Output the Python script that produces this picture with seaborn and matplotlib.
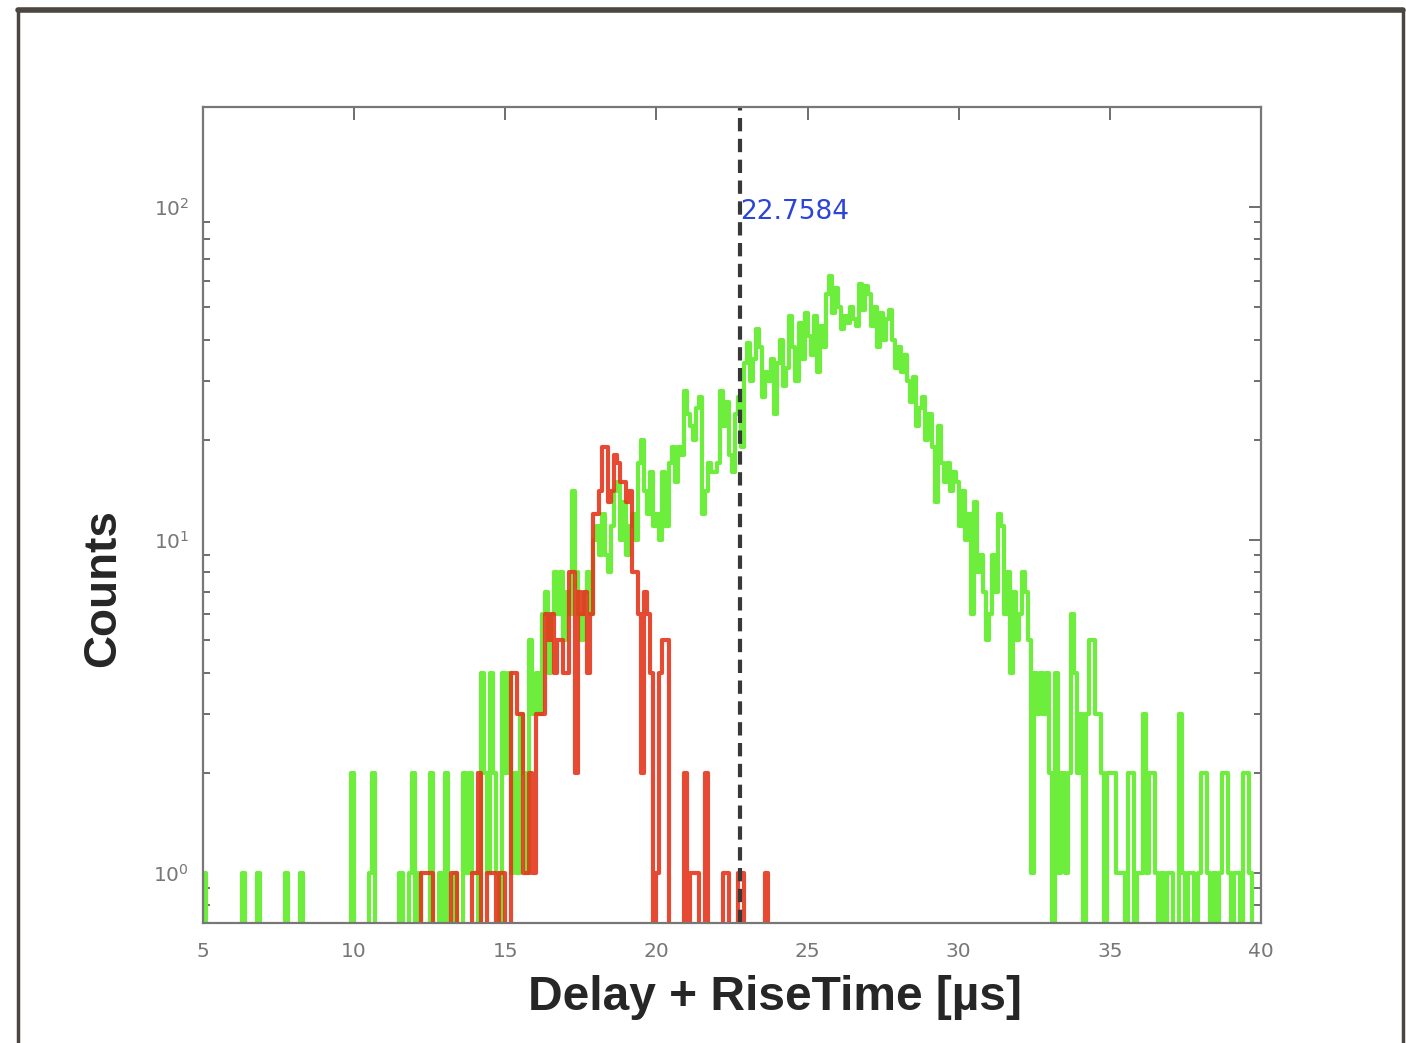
import numpy as np
import pandas as pd
import matplotlib.pyplot as plt
import seaborn as sns
from matplotlib.lines import Line2D

# histogram binning: 0.1 us bins from 5 to 40
bin_width = 0.1
bin_range = (5.0, 40.0)
bin_centers = np.round(np.arange(5.0, 40.0, bin_width), 2) + 0.05

# green histogram, one row per microsecond (5.x ... 39.x)
green_counts = [
    1, 0, 0, 0, 0, 0, 0, 0, 0, 0,
    0, 0, 0, 1, 0, 0, 0, 0, 1, 0,
    0, 0, 0, 0, 0, 0, 0, 1, 0, 0,
    0, 0, 1, 0, 0, 0, 0, 0, 0, 0,
    0, 0, 0, 0, 0, 0, 0, 0, 0, 2,
    0, 0, 0, 0, 0, 1, 2, 0, 0, 0,
    0, 0, 0, 0, 0, 1, 0, 0, 1, 2,
    0, 1, 0, 0, 0, 2, 0, 0, 1, 0,
    2, 0, 0, 1, 0, 0, 2, 1, 2, 1,
    1, 0, 4, 2, 1, 4, 2, 1, 0, 4,
    2, 4, 1, 2, 1, 3, 2, 1, 5, 3,
    4, 3, 6, 7, 4, 6, 8, 6, 8, 5,
    7, 6, 14, 8, 6, 5, 7, 8, 6, 10,
    11, 9, 12, 9, 8, 11, 14, 15, 10, 13,
    9, 11, 12, 10, 17, 20, 14, 12, 16, 11,
    12, 10, 16, 11, 17, 19, 15, 19, 18, 28,
    24, 22, 20, 25, 27, 12, 14, 17, 16, 16,
    17, 28, 22, 26, 18, 16, 24, 27, 19, 34,
    39, 30, 35, 43, 38, 27, 32, 30, 35, 24,
    34, 40, 29, 33, 47, 38, 30, 45, 35, 48,
    41, 36, 47, 32, 44, 38, 55, 62, 48, 57,
    50, 43, 47, 45, 50, 46, 44, 59, 49, 58,
    55, 44, 50, 38, 48, 40, 46, 49, 40, 33,
    38, 32, 36, 30, 26, 31, 22, 25, 27, 20,
    24, 19, 13, 22, 17, 15, 17, 14, 16, 15,
    11, 14, 10, 12, 6, 13, 8, 9, 7, 5,
    6, 9, 7, 12, 11, 6, 8, 4, 7, 5,
    6, 8, 7, 5, 1, 4, 3, 4, 3, 4,
    2, 0, 4, 1, 2, 1, 2, 6, 4, 2,
    3, 0, 3, 5, 5, 3, 3, 2, 0, 2,
    2, 2, 1, 1, 1, 0, 2, 2, 0, 1,
    1, 3, 1, 2, 2, 1, 0, 1, 0, 1,
    1, 0, 0, 3, 1, 0, 1, 1, 0, 1,
    2, 2, 1, 0, 1, 0, 1, 2, 2, 1,
    0, 1, 1, 0, 2, 2, 1, 0, 0, 0,
]

# red histogram is empty outside 12.0 - 23.9
red_start = 12.0
red_counts_window = [
    0, 0, 1, 1, 1, 1, 0, 0, 0, 0,
    0, 0, 1, 1, 0, 0, 0, 0, 0, 1,
    1, 2, 0, 0, 1, 1, 1, 0, 1, 1,
    0, 0, 4, 4, 3, 3, 1, 1, 2, 1,
    3, 3, 3, 6, 5, 6, 4, 5, 5, 4,
    4, 8, 8, 2, 7, 6, 7, 4, 6, 12,
    12, 14, 19, 19, 13, 14, 18, 17, 15, 15,
    13, 14, 8, 8, 6, 2, 7, 6, 4, 0,
    1, 4, 5, 5, 0, 0, 0, 0, 0, 2,
    0, 1, 1, 1, 0, 0, 2, 0, 0, 0,
    0, 0, 1, 1, 0, 0, 0, 1, 1, 0,
    0, 0, 0, 0, 0, 0, 1, 0, 0, 0,
]
red_counts = np.zeros(len(bin_centers))
i0 = int(round((red_start - 5.0) / bin_width))
red_counts[i0:i0 + len(red_counts_window)] = red_counts_window

cut_value = 22.7584

df = pd.DataFrame({"time": bin_centers,
                   "green": np.asarray(green_counts, dtype=float),
                   "red": red_counts})

sns.set_theme(style="white")
plt.rcParams["font.family"] = ["DejaVu Sans"]

fig = plt.figure(figsize=(14.06, 10.43), dpi=100)
ax = fig.add_axes([203 / 1406, 1 - 923 / 1043, (1261 - 203) / 1406, (923 - 107) / 1043])

sns.histplot(data=df, x="time", weights="green", binwidth=bin_width, binrange=bin_range,
             element="step", fill=False, color="#6ded3c", linewidth=3, ax=ax)
sns.histplot(data=df, x="time", weights="red", binwidth=bin_width, binrange=bin_range,
             element="step", fill=False, color="#e5361c", linewidth=3, alpha=0.9, ax=ax)

ax.set_yscale("log", nonpositive="clip")
ax.set_xlim(5, 40)
ax.set_ylim(0.708, 200)

ax.axvline(cut_value, color="#383838", lw=3, ls=(0, (3.2, 1.8)))
ax.text(cut_value, 97, "22.7584", color="#2b45d8", fontsize=19, ha="left", va="center")

ax.set_xlabel("")
ax.set_ylabel("")
ax.set_xticks(np.arange(5, 41, 5))
ax.set_xticklabels([str(v) for v in range(5, 41, 5)])
ax.set_yticks([1, 10, 100])
ax.set_yticklabels([r"$10^{0}$", r"$10^{1}$", r"$10^{2}$"])
ax.tick_params(axis="both", which="major", direction="in", length=9, width=1.2,
               color="#555555", labelcolor="#777777", labelsize=14.5,
               top=True, right=True)
ax.tick_params(axis="x", which="major", pad=14)
ax.tick_params(axis="y", which="major", pad=10)
ax.tick_params(axis="y", which="minor", direction="in", length=5, width=1.2,
               color="#555555", left=True, right=True)
ax.tick_params(axis="x", which="minor", bottom=False, top=False)
for s in ax.spines.values():
    s.set_color("#777777")
    s.set_linewidth(1.6)

fig.text(775 / 1406, 1 - 998 / 1043, "Delay + RiseTime [\u00b5s]", ha="center", va="center",
         fontsize=34.5, fontweight="bold", family="Liberation Sans")
fig.text(103 / 1406, 1 - 588 / 1043, "Counts", ha="center", va="center", rotation=90,
         fontsize=33, fontweight="bold", family="Liberation Sans")

# dark frame around the slide
frame = "#4b4641"
fig.add_artist(Line2D([18 / 1406, 1403 / 1406], [1 - 10 / 1043, 1 - 10 / 1043],
                      transform=fig.transFigure, color=frame, lw=4))
fig.add_artist(Line2D([18 / 1406, 18 / 1406], [0, 1 - 10 / 1043],
                      transform=fig.transFigure, color=frame, lw=2.5))
fig.add_artist(Line2D([1403 / 1406, 1403 / 1406], [0, 1 - 10 / 1043],
                      transform=fig.transFigure, color=frame, lw=2.5))

fig.savefig("out.png", dpi=100)
